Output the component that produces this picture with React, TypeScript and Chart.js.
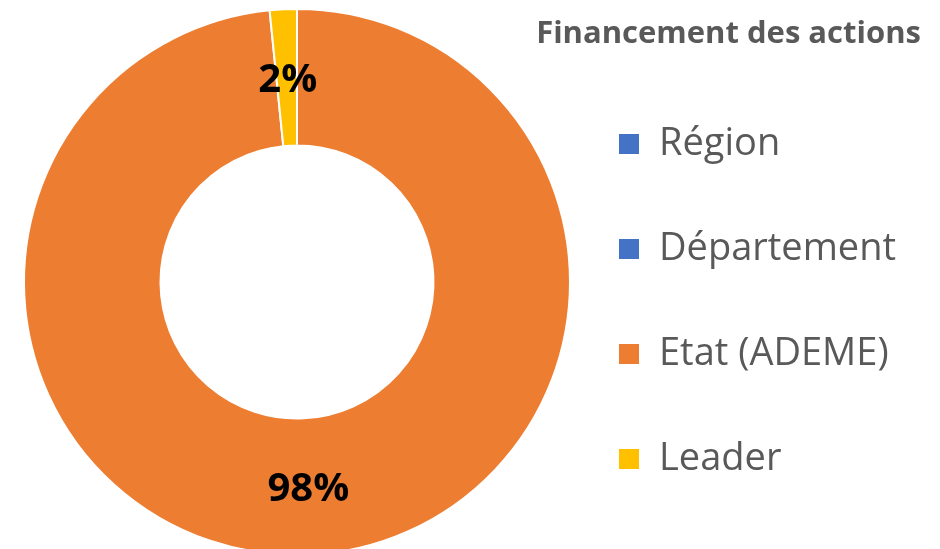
import React, { useEffect, useRef } from "react";
import { Chart, registerables } from "chart.js";

Chart.register(...registerables);

const labels = ["Région", "Département", "Etat (ADEME)", "Leader"];
const values = [0, 0, 98.4, 1.6];
const colors = ["#4472C4", "#4472C4", "#ED7D31", "#FFC000"];
const legendTitle = "Financement des actions";

const FONT = "'Open Sans', sans-serif";
const CANVAS_W = 940;
const CANVAS_H = 564;
const CENTER_X = 297;
const LEGEND_SIZE = 38;
const BOX = 22;
const ITEM_PAD = 67;
const BOX_X = 618;
const TITLE_SIZE = 31;
const TITLE_Y = 34;

const pctLabels = {
  id: "pctLabels",
  afterDatasetsDraw(chart: any) {
    const ctx = chart.ctx;
    const meta = chart.getDatasetMeta(0);
    const data = chart.data.datasets[0].data as number[];
    const total = data.reduce((a, b) => a + b, 0);
    ctx.save();
    ctx.font = `bold 40px ${FONT}`;
    ctx.fillStyle = "#000000";
    ctx.textAlign = "center";
    ctx.textBaseline = "middle";
    meta.data.forEach((el: any, i: number) => {
      const v = data[i];
      if (!v) return;
      const p = el.tooltipPosition();
      ctx.fillText(`${Math.round((v / total) * 100)}%`, p.x + 1, p.y + 3);
    });
    ctx.restore();
  },
};

// Legend title drawn centred over the legend box (Chart.js clips its own
// legend title to the legend width, which is narrower than this title).
const legendTitlePlugin = {
  id: "legendTitlePlugin",
  afterDraw(chart: any) {
    const lg = chart.legend;
    if (!lg) return;
    const ctx = chart.ctx;
    ctx.save();
    ctx.font = `bold ${TITLE_SIZE}px ${FONT}`;
    ctx.fillStyle = "#595959";
    ctx.textAlign = "center";
    ctx.textBaseline = "middle";
    ctx.fillText(legendTitle, lg.left + lg.width / 2, TITLE_Y);
    ctx.restore();
  },
};

export default function App() {
  const ref = useRef<HTMLCanvasElement>(null);

  useEffect(() => {
    const m = document.createElement("canvas").getContext("2d")!;
    m.font = `normal ${LEGEND_SIZE}px ${FONT}`;
    const textW = Math.max(...labels.map((l) => m.measureText(l).width));
    const legendLeft = BOX_X - ITEM_PAD;
    const legendWidth = ITEM_PAD + BOX + LEGEND_SIZE / 2 + textW + 10;
    const padRight = CANVAS_W - legendLeft - legendWidth;
    const padLeft = 2 * CENTER_X - legendLeft;

    const chart = new Chart(ref.current!, {
      type: "doughnut",
      data: {
        labels,
        datasets: [
          {
            data: values,
            backgroundColor: colors,
            borderColor: "#ffffff",
            borderWidth: 2,
            clip: false as any,
          },
        ],
      },
      options: {
        responsive: false,
        animation: false,
        radius: 273,
        cutout: "50%",
        layout: { padding: { left: padLeft, right: padRight, top: 0, bottom: 0 } },
        plugins: {
          tooltip: { enabled: false },
          legend: {
            position: "right",
            align: "start",
            title: {
              display: true,
              text: "",
              font: { family: FONT, size: TITLE_SIZE, weight: "bold", lineHeight: 1.0 },
              padding: { top: 19, bottom: 8 },
            },
            labels: {
              color: "#595959",
              font: { family: FONT, size: LEGEND_SIZE },
              boxWidth: BOX,
              boxHeight: BOX,
              padding: ITEM_PAD,
            },
          },
        },
      } as any,
      plugins: [pctLabels, legendTitlePlugin],
    });
    return () => chart.destroy();
  }, []);

  return (
    <div
      style={{
        position: "fixed",
        left: 0,
        top: 0,
        width: 940,
        height: 549,
        overflow: "hidden",
        background: "#ffffff",
      }}
    >
      <canvas ref={ref} width={CANVAS_W} height={CANVAS_H} />
    </div>
  );
}
